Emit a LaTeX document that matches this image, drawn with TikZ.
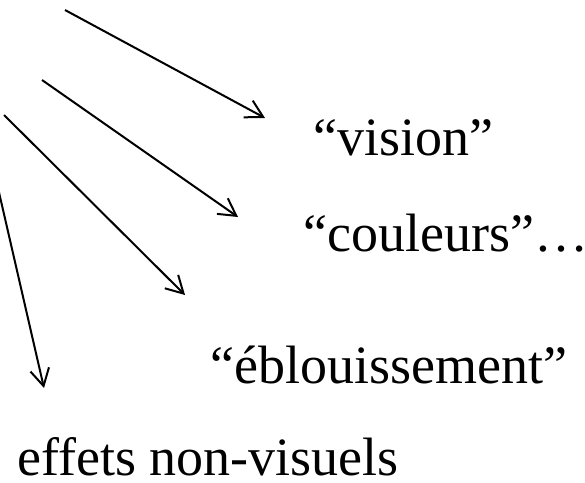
\documentclass[tikz,border=0pt]{standalone}
\usepackage{fontspec}
\setmainfont{Liberation Serif}
\usetikzlibrary{arrows.meta}
\begin{document}
\begin{tikzpicture}[x=1pt,y=-1pt,
  label/.style={anchor=base west,inner sep=0pt,font=\fontsize{54}{60}\selectfont},
  ray/.style={line width=2pt,-{Straight Barb[length=17pt,width=19pt,line width=2pt]}}]
\useasboundingbox (0,0) rectangle (585,482);
% labels
\node[label] (vision) at (313,155) {“vision”};
\node[label] (couleurs) at (303,251) {“couleurs”…};
\node[label] (ebl) at (210,383) {“éblouissement”};
\node[label] (effets) at (17,475) {effets non-visuels};
% ray start and end points
\coordinate (s1) at (65,10);   \coordinate (e1) at (265,118);
\coordinate (s2) at (42,80);   \coordinate (e2) at (238,217);
\coordinate (s3) at (4,115);   \coordinate (e3) at (185,295);
\coordinate (s4) at (-2,188);  \coordinate (e4) at (44,388);
\draw[ray] (s1) -- (e1);
\draw[ray] (s2) -- (e2);
\draw[ray] (s3) -- (e3);
\draw[ray] (s4) -- (e4);
\end{tikzpicture}
\end{document}
